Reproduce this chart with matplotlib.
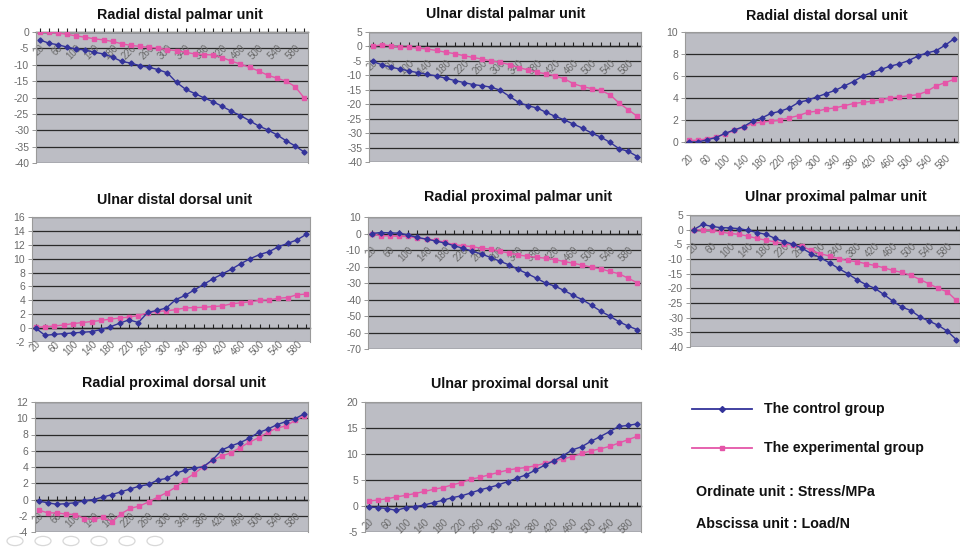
import matplotlib
matplotlib.use("Agg")
import matplotlib.pyplot as plt
from matplotlib.lines import Line2D
from matplotlib.patches import Circle
from matplotlib.transforms import ScaledTranslation

plt.rcParams['font.family'] = ['Liberation Sans', 'DejaVu Sans']

# load categories (N)
loads = [20, 40, 60, 80, 100, 120, 140, 160, 180, 200, 220, 240, 260, 280, 300,
         320, 340, 360, 380, 400, 420, 440, 460, 480, 500, 520, 540, 560, 580, 600]

# stress values (MPa)
rdp_ctrl = [-2.4, -3.4, -3.9, -4.6, -5.2, -5.5, -6.2, -6.7, -7.7, -9.0, -9.5, -10.3, -10.8, -11.5, -12.5,
            -15.4, -17.5, -18.8, -20.1, -21.3, -22.7, -24.2, -25.5, -27.1, -28.7, -29.9, -31.4, -33.2, -34.8, -36.7]
rdp_exp = [0.0, -0.1, -0.3, -0.7, -1.2, -1.6, -2.1, -2.4, -2.9, -3.6, -4.1, -4.4, -4.7, -4.9, -5.4,
           -5.7, -6.2, -6.7, -6.9, -7.0, -7.8, -8.9, -9.8, -10.8, -11.9, -13.2, -14.1, -15.0, -16.7, -20.2]

udp_ctrl = [-5.2, -6.3, -7.2, -7.8, -8.5, -9.1, -9.7, -10.2, -11.0, -11.8, -12.5, -13.2, -13.6, -14.1, -15.2,
            -17.3, -19.4, -20.5, -21.3, -22.8, -24.2, -25.4, -26.9, -28.3, -30.0, -31.4, -33.2, -35.4, -36.3, -38.1]
udp_exp = [0.0, 0.6, 0.2, -0.3, -0.3, -0.6, -0.9, -1.4, -2.0, -2.5, -3.2, -3.8, -4.4, -5.0, -5.5,
           -6.3, -7.3, -8.1, -8.9, -9.5, -10.2, -11.2, -12.9, -13.9, -14.6, -15.2, -16.7, -19.6, -21.9, -24.2]

rdd_ctrl = [0.0, 0.0, 0.2, 0.4, 0.8, 1.1, 1.4, 1.9, 2.2, 2.6, 2.8, 3.1, 3.6, 3.8, 4.1,
            4.4, 4.7, 5.1, 5.5, 6.0, 6.3, 6.6, 6.9, 7.1, 7.4, 7.8, 8.1, 8.3, 8.8, 9.4]
rdd_exp = [0.15, 0.15, 0.3, 0.45, 0.75, 1.05, 1.35, 1.7, 1.8, 1.9, 2.0, 2.2, 2.4, 2.7, 2.8,
           3.0, 3.1, 3.3, 3.5, 3.6, 3.7, 3.85, 4.0, 4.1, 4.2, 4.3, 4.6, 5.1, 5.4, 5.7]

udd_ctrl = [0.0, -1.05, -0.9, -0.8, -0.7, -0.6, -0.5, -0.2, 0.2, 0.7, 1.2, 0.8, 2.25, 2.55, 2.9,
            4.1, 4.7, 5.5, 6.3, 7.1, 7.8, 8.5, 9.3, 10.0, 10.6, 11.0, 11.7, 12.2, 12.7, 13.5]
udd_exp = [0.1, 0.2, 0.3, 0.45, 0.65, 0.8, 0.95, 1.1, 1.3, 1.45, 1.6, 1.8, 2.2, 2.4, 2.5,
           2.65, 2.9, 2.95, 3.0, 3.1, 3.2, 3.5, 3.65, 3.8, 4.0, 4.05, 4.3, 4.4, 4.8, 4.9]

rpp_ctrl = [0.0, 0.6, 0.4, 0.2, -1.0, -2.4, -3.4, -4.6, -5.8, -7.4, -9.0, -10.8, -12.4, -14.6, -16.8,
            -19.0, -21.8, -24.4, -27.1, -30.1, -31.9, -34.5, -37.5, -40.1, -43.5, -47.1, -50.1, -53.5, -56.1, -58.3]
rpp_exp = [0.0, -1.4, -1.4, -1.8, -1.8, -2.8, -3.4, -4.0, -5.4, -6.8, -7.4, -8.0, -9.0, -9.4, -10.8,
           -11.8, -13.0, -13.8, -14.4, -15.0, -15.8, -17.0, -18.0, -19.2, -20.4, -21.4, -23.0, -24.4, -27.1, -29.9]

upp_ctrl = [0.0, 1.8, 1.1, 0.7, 0.6, 0.35, -0.2, -1.0, -1.6, -3.0, -4.1, -5.0, -6.4, -8.2, -9.6,
            -11.3, -13.2, -15.0, -17.0, -18.7, -20.0, -22.1, -24.4, -26.4, -27.6, -29.8, -31.2, -32.6, -34.6, -37.5]
upp_exp = [0.0, -0.2, -0.2, -0.8, -1.3, -1.6, -2.2, -3.0, -3.6, -4.2, -4.8, -5.2, -5.7, -7.1, -8.2,
           -9.0, -9.9, -10.5, -10.9, -11.6, -12.2, -13.0, -13.9, -14.6, -15.6, -17.0, -18.5, -20.0, -21.2, -24.1]

rpd_ctrl = [-0.2, -0.4, -0.6, -0.5, -0.4, -0.15, 0.0, 0.3, 0.6, 0.95, 1.3, 1.65, 1.85, 2.4, 2.6,
            3.25, 3.6, 3.85, 4.05, 4.9, 6.1, 6.6, 7.0, 7.55, 8.25, 8.65, 9.2, 9.6, 9.95, 10.55]
rpd_exp = [-1.3, -1.65, -1.65, -1.8, -1.85, -2.35, -2.45, -2.15, -2.75, -1.75, -1.1, -0.8, -0.3, 0.3, 0.85,
           1.55, 2.45, 3.2, 4.05, 4.85, 5.35, 5.75, 6.4, 7.05, 7.6, 8.25, 8.8, 9.05, 9.75, 10.3]

upd_ctrl = [-0.2, -0.3, -0.5, -0.85, -0.3, -0.15, 0.2, 0.65, 1.1, 1.6, 1.95, 2.5, 3.1, 3.55, 4.05,
            4.7, 5.35, 6.0, 6.9, 7.85, 8.7, 9.7, 10.8, 11.4, 12.45, 13.35, 14.3, 15.3, 15.5, 15.8]
upd_exp = [0.95, 1.15, 1.4, 1.75, 2.05, 2.4, 2.8, 3.2, 3.55, 4.05, 4.5, 5.15, 5.5, 6.0, 6.45,
           6.9, 7.2, 7.4, 7.75, 8.2, 8.7, 9.05, 9.5, 10.1, 10.6, 11.0, 11.45, 12.1, 12.75, 13.4]

titles = ["Radial distal palmar unit", "Ulnar distal palmar unit", "Radial distal dorsal unit",
          "Ulnar distal dorsal unit", "Radial proximal palmar unit", "Ulnar proximal palmar unit",
          "Radial proximal dorsal unit", "Ulnar proximal dorsal unit"]

W, H = 960, 552
ctrl_color = '#33339a'
exp_color = '#e455a8'

fig = plt.figure(figsize=(9.6, 5.52), dpi=100)
shift_left = ScaledTranslation(-4 / 100, 0, fig.dpi_scale_trans)


def px_axes(x0, y0, x1, y1):
    return fig.add_axes([x0 / W, 1 - y1 / H, (x1 - x0) / W, (y1 - y0) / H])


def panel(box, title, tpos, ctrl, exp, ylim, ystep):
    ax = px_axes(*box)
    # spine position first: moving it resets the tick labels
    ax.spines['bottom'].set_position(('data', 0))
    ax.set_facecolor('#bcbdc4')
    idx = list(range(len(loads)))
    ax.plot(idx, exp, color=exp_color, lw=1.0, marker='s', ms=3.0, mec=exp_color, zorder=3)
    ax.plot(idx, ctrl, color=ctrl_color, lw=1.0, marker='D', ms=2.6, mec=ctrl_color, zorder=4)
    ax.set_xlim(-0.4, len(loads) - 0.6)
    ax.set_ylim(*ylim)
    yt = list(range(ylim[0], ylim[1] + 1, ystep))
    ax.set_yticks(yt)
    ax.set_yticklabels([str(v) for v in yt])
    for v in yt:
        ax.axhline(v, color='#2a2a2a', lw=0.9, zorder=1)
    ax.set_xticks(idx)
    ax.set_xticklabels([str(l) if i % 2 == 0 else '' for i, l in enumerate(loads)],
                       rotation=45, ha='right', va='top', rotation_mode='anchor')
    for lab in ax.get_xticklabels():
        lab.set_transform(lab.get_transform() + shift_left)
    ax.spines['bottom'].set_color('#222222')
    ax.spines['bottom'].set_linewidth(1.0)
    ax.spines['bottom'].set_zorder(2)
    for s in ['left', 'top', 'right']:
        ax.spines[s].set_color('#9a9a9a')
        ax.spines[s].set_linewidth(0.8)
    ax.tick_params(axis='x', direction='in', length=3, width=0.8, color='#222222',
                   labelsize=7, labelcolor='#6a6a6a', pad=8)
    ax.tick_params(axis='y', length=3, width=0.6, color='#888888',
                   labelsize=7.5, labelcolor='#6a6a6a', pad=2)
    fig.text(tpos[0] / W, 1 - tpos[1] / H, title, ha='center', va='center',
             fontsize=10.3, fontweight='bold', color='#111111')
    return ax


panel((36, 32, 308, 163), titles[0], (180, 15), rdp_ctrl, rdp_exp, (-40, 0), 5)
panel((369, 32, 641, 162), titles[1], (506, 14), udp_ctrl, udp_exp, (-40, 5), 5)
panel((685, 32, 958, 142), titles[2], (827, 16), rdd_ctrl, rdd_exp, (0, 10), 2)
panel((32, 217, 310, 342), titles[3], (175, 200), udd_ctrl, udd_exp, (-2, 16), 2)
panel((368, 217, 641, 349), titles[4], (518, 197), rpp_ctrl, rpp_exp, (-70, 10), 10)
panel((690, 215, 960, 347), titles[5], (836, 197), upp_ctrl, upp_exp, (-40, 5), 5)
panel((35, 402, 308, 532), titles[6], (174, 383), rpd_ctrl, rpd_exp, (-4, 12), 2)
panel((365, 402, 641, 532), titles[7], (520, 384), upd_ctrl, upd_exp, (-5, 20), 5)

# legend / notes in the empty ninth slot
for yy, col, mk, label in [(409, ctrl_color, 'D', 'The control group'),
                           (448, exp_color, 's', 'The experimental group')]:
    fig.add_artist(Line2D([692 / W, 752 / W], [1 - yy / H, 1 - yy / H], color=col, lw=1.3,
                          transform=fig.transFigure))
    fig.add_artist(Line2D([722 / W], [1 - yy / H], color=col, marker=mk, ms=3,
                          transform=fig.transFigure))
    fig.text(764 / W, 1 - yy / H, label, ha='left', va='center', fontsize=10.2,
             fontweight='bold', color='#111111')

fig.text(696 / W, 1 - 492 / H, 'Ordinate unit : Stress/MPa', ha='left', va='center',
         fontsize=10.3, fontweight='bold', color='#111111')
fig.text(696 / W, 1 - 524 / H, 'Abscissa unit : Load/N', ha='left', va='center',
         fontsize=10.3, fontweight='bold', color='#111111')

# faint viewer buttons at the bottom left
for cx in [15, 43, 71, 99, 127, 155]:
    fig.add_artist(Circle((cx / W, 1 - 541 / H), 8 / W, transform=fig.transFigure,
                          fill=False, ec='#d8d8d8', lw=0.9))

fig.savefig('out.png', dpi=100)
